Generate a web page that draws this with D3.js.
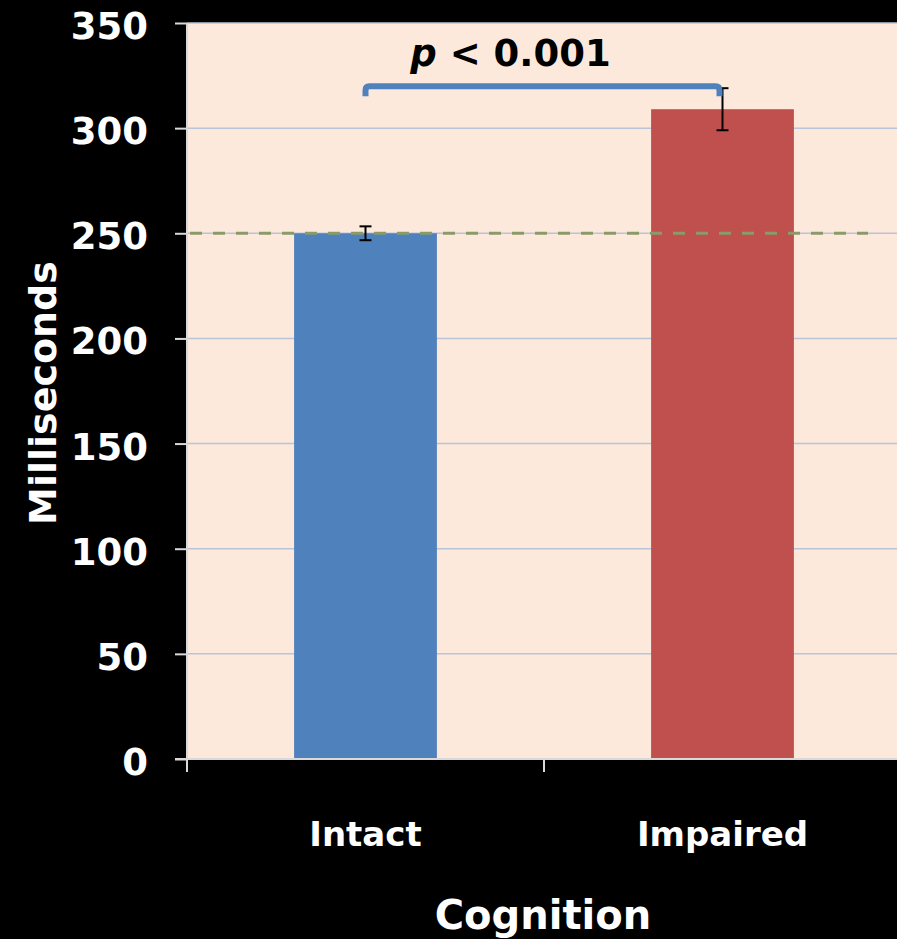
<!DOCTYPE html>
<html>
<head>
<meta charset="utf-8">
<script src="https://cdn.jsdelivr.net/npm/d3@7"></script>
<style>
  html, body { margin: 0; padding: 0; background: #000; }
  svg { display: block; }
  text { font-family: "DejaVu Sans", sans-serif; font-weight: 700; }
</style>
</head>
<body>
<div id="chart"></div>
<script>
var categories = ["Intact", "Impaired"];
var values = [250, 309];
var errors = [3.3, 10];
var colors = ["#4f81bd", "#c0504d"];
var yTicks = [0, 50, 100, 150, 200, 250, 300, 350];
var baseline = 250;
var pLabel = "< 0.001";

var width = 897, height = 939;
var plotLeft = 187, plotRight = 901, plotTop = 23, plotBottom = 759;

var svg = d3.select("#chart").append("svg")
  .attr("width", width)
  .attr("height", height);

svg.append("rect")
  .attr("width", width).attr("height", height)
  .attr("fill", "#000");

var x = d3.scaleBand().domain(categories).range([plotLeft, plotRight]).paddingInner(0).paddingOuter(0);
var y = d3.scaleLinear().domain([0, 350]).range([plotBottom, plotTop]);

// plot background
svg.append("rect")
  .attr("x", plotLeft).attr("y", plotTop)
  .attr("width", plotRight - plotLeft).attr("height", plotBottom - plotTop)
  .attr("fill", "#fde9db");

// gridlines
svg.append("g").selectAll("line")
  .data(yTicks.filter(function (d) { return d > 0; }))
  .enter().append("line")
  .attr("x1", plotLeft).attr("x2", plotRight)
  .attr("y1", function (d) { return y(d); })
  .attr("y2", function (d) { return y(d); })
  .attr("stroke", "#b8c4d8")
  .attr("stroke-width", 1.5);

// bars
var barW = x.bandwidth() * 0.4;
svg.append("g").selectAll("rect")
  .data(values)
  .enter().append("rect")
  .attr("x", function (d, i) { return x(categories[i]) + (x.bandwidth() - barW) / 2; })
  .attr("y", function (d) { return y(d); })
  .attr("width", barW)
  .attr("height", function (d) { return y(0) - y(d); })
  .attr("fill", function (d, i) { return colors[i]; });

// dashed reference line
svg.append("line")
  .attr("x1", plotLeft + 3).attr("x2", 868)
  .attr("y1", y(baseline)).attr("y2", y(baseline))
  .attr("stroke", "#8a9a68")
  .attr("stroke-width", 3)
  .attr("stroke-dasharray", "12,11");

// error bars
var eb = svg.append("g").attr("stroke", "#000").attr("stroke-width", 2);
values.forEach(function (v, i) {
  var cx = x(categories[i]) + x.bandwidth() / 2;
  eb.append("line").attr("x1", cx).attr("x2", cx)
    .attr("y1", y(v + errors[i])).attr("y2", y(v - errors[i]));
  [v + errors[i], v - errors[i]].forEach(function (e) {
    eb.append("line").attr("x1", cx - 6).attr("x2", cx + 6)
      .attr("y1", y(e)).attr("y2", y(e));
  });
});

// y axis
var yAxis = d3.axisLeft(y).tickValues(yTicks).tickSize(12).tickPadding(27);
var gy = svg.append("g").attr("transform", "translate(" + plotLeft + ",0)").call(yAxis);
gy.select(".domain").attr("stroke", "#d9d9d9").attr("stroke-width", 2)
  .attr("d", "M0," + plotTop + "V" + (plotBottom + 13));
gy.selectAll(".tick line").attr("stroke", "#d9d9d9").attr("stroke-width", 2);
gy.selectAll(".tick text").attr("fill", "#fff")
  .style("font-family", "'DejaVu Sans', sans-serif")
  .style("font-size", "37px").style("font-weight", 700).attr("dy", "0.42em");

// x axis
var gx = svg.append("g").attr("transform", "translate(0," + plotBottom + ")");
gx.append("line").attr("x1", plotLeft - 12).attr("x2", plotRight).attr("y1", 0).attr("y2", 0)
  .attr("stroke", "#d9d9d9").attr("stroke-width", 2);
gx.selectAll(".xt").data(categories).enter().append("line")
  .attr("x1", function (d) { return x(d); })
  .attr("x2", function (d) { return x(d); })
  .attr("y1", 0).attr("y2", 13)
  .attr("stroke", "#d9d9d9").attr("stroke-width", 2);
gx.selectAll(".xl").data(categories).enter().append("text")
  .attr("x", function (d) { return x(d) + x.bandwidth() / 2; })
  .attr("y", 87)
  .attr("text-anchor", "middle")
  .attr("fill", "#fff")
  .style("font-size", "34px")
  .text(function (d) { return d; });

// axis titles
svg.append("text")
  .attr("x", 543).attr("y", 929)
  .attr("text-anchor", "middle")
  .attr("fill", "#fff")
  .style("font-size", "40px")
  .text("Cognition");

svg.append("text")
  .attr("transform", "translate(56,393) rotate(-90)")
  .attr("text-anchor", "middle")
  .attr("fill", "#fff")
  .style("font-size", "38px")
  .text("Milliseconds");

// significance bracket
var x0 = x(categories[0]) + x.bandwidth() / 2, x1 = x(categories[1]) + x.bandwidth() / 2 - 3;
var by = y(values[1] + errors[1]) - 2;
svg.append("path")
  .attr("d", "M" + x0 + "," + (by + 10) + "V" + (by + 4) + "Q" + x0 + "," + by + " " + (x0 + 4) + "," + by +
    "H" + (x1 - 4) + "Q" + x1 + "," + by + " " + x1 + "," + (by + 4) + "V" + (by + 10))
  .attr("fill", "none")
  .attr("stroke", "#4f81bd")
  .attr("stroke-width", 6);

var pt = svg.append("text")
  .attr("x", x0 + 145).attr("y", 66)
  .attr("text-anchor", "middle")
  .attr("fill", "#000")
  .style("font-size", "37px");
pt.append("tspan").style("font-style", "italic").text("p");
pt.append("tspan").text(" " + pLabel);
</script>
</body>
</html>
